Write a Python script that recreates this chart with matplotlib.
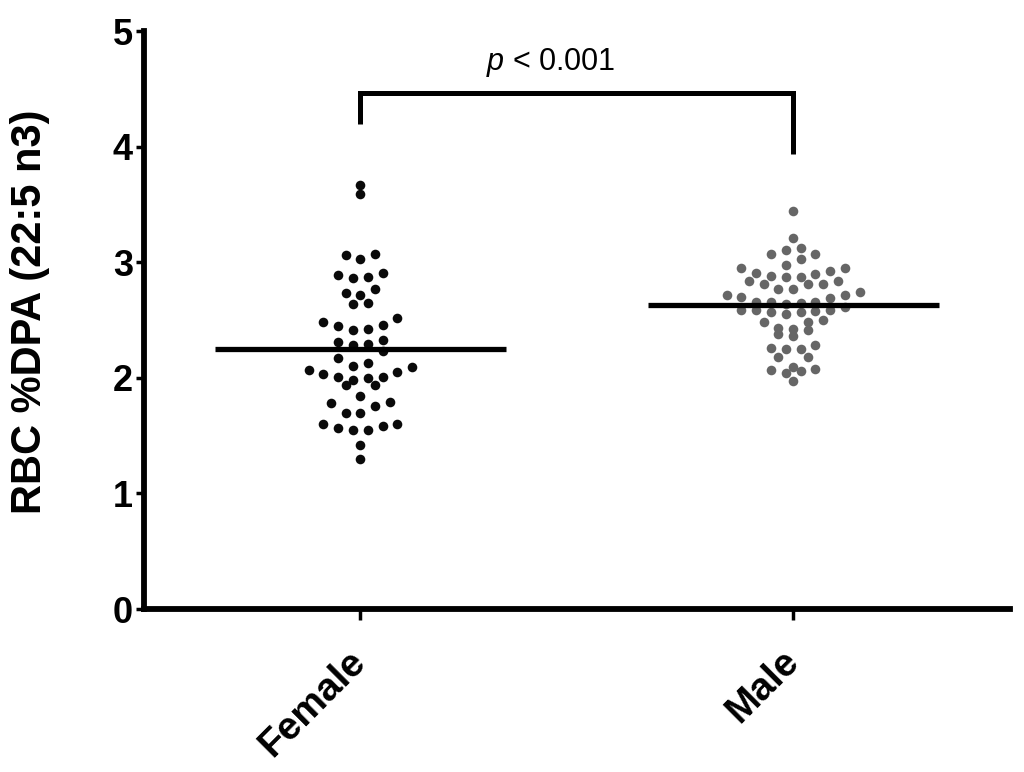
import numpy as np
import matplotlib
matplotlib.use('Agg')
import matplotlib.pyplot as plt

plt.rcParams['font.family'] = 'Liberation Sans'
plt.rcParams['mathtext.fontset'] = 'custom'
plt.rcParams['mathtext.it'] = 'Liberation Sans:italic'
plt.rcParams['mathtext.rm'] = 'Liberation Sans'

groups = ['Female', 'Male']

# values
female = [3.67, 3.59, 3.07, 3.03, 3.06, 2.91, 2.87, 2.86, 2.89, 2.77,
          2.72, 2.64, 2.65, 2.73, 2.52, 2.46, 2.42, 2.41, 2.45, 2.48,
          2.31, 2.28, 2.29, 2.33, 2.23, 2.17, 2.13, 2.10, 2.07, 2.03,
          2.01, 1.94, 1.98, 2.00, 1.94, 2.01, 2.05, 2.09, 1.84, 1.79,
          1.76, 1.70, 1.70, 1.78, 1.60, 1.58, 1.55, 1.55, 1.57, 1.60,
          1.42, 1.30]
male = [3.44, 3.21, 3.12, 3.07, 3.07, 3.11, 3.03, 2.95, 2.92, 2.90,
        2.91, 2.95, 2.98, 2.88, 2.87, 2.84, 2.81, 2.77, 2.77, 2.81,
        2.81, 2.84, 2.87, 2.72, 2.70, 2.66, 2.65, 2.64, 2.66, 2.66,
        2.69, 2.72, 2.74, 2.61, 2.59, 2.57, 2.55, 2.59, 2.58, 2.57,
        2.59, 2.48, 2.43, 2.41, 2.50, 2.36, 2.38, 2.42, 2.48, 2.28,
        2.25, 2.18, 2.18, 2.25, 2.26, 2.08, 2.06, 1.97, 2.04, 2.07,
        2.09]
means = [2.25, 2.63]
colors = ['#0a0a0a', '#666666']
row_h = [0.15, 0.11]

p_text = r'$p$ < 0.001'
bracket_top = 4.46
bracket_ends = [4.20, 3.94]


def row_offsets(values, bin_h, step):
    # dot-plot layout: points binned into rows, spread out from the centre
    v = np.asarray(values)
    rows = np.floor(v / bin_h).astype(int)
    x = np.zeros(len(v))
    for r in np.unique(rows):
        idx = np.where(rows == r)[0]
        idx = idx[np.argsort(v[idx])]
        n = len(idx)
        slots = (np.arange(n) - (n - 1) / 2) * step
        order = np.argsort(np.abs(slots), kind='stable')
        x[idx] = slots[order]
    return x


fig = plt.figure(figsize=(10.24, 7.72), dpi=100)
ax = fig.add_axes([0.1406, 0.2111, 0.8454, 0.7487])
ax.set_xlim(0.5, 2.5)
ax.set_ylim(0, 5)

px_per_x = ax.transData.transform((1, 0))[0] - ax.transData.transform((0, 0))[0]
step = 14.8 / px_per_x

pos = np.arange(1, len(groups) + 1)
for i, vals in enumerate([female, male]):
    xo = row_offsets(vals, row_h[i], step)
    ax.scatter(pos[i] + xo, vals, s=48, color=colors[i], linewidths=0, zorder=3)
    ax.hlines(means[i], pos[i] - 0.336, pos[i] + 0.336, color='black', lw=3.8, zorder=4)

# significance bracket
ax.plot([pos[0], pos[0], pos[1], pos[1]],
        [bracket_ends[0], bracket_top, bracket_top, bracket_ends[1]],
        color='black', lw=3.6, solid_joinstyle='miter', solid_capstyle='butt')
ax.text(1.44, 4.73, p_text, ha='center', va='center', fontsize=22)

for s in ['top', 'right']:
    ax.spines[s].set_visible(False)
for s in ['left', 'bottom']:
    ax.spines[s].set_linewidth(4.2)

ax.set_yticks([0, 1, 2, 3, 4, 5])
ax.set_yticklabels(['0', '1', '2', '3', '4', '5'], fontsize=26, fontweight='bold')
ax.tick_params(axis='y', length=6, width=2.5, pad=2)
ax.set_xticks(pos)
ax.set_xticklabels(groups, fontsize=28, fontweight='bold', rotation=45,
                   ha='right', va='center', rotation_mode='anchor')
ax.tick_params(axis='x', length=8, width=2.5, pad=26)

ax.set_ylabel('RBC %DPA (22:5 n3)', fontsize=30, fontweight='bold')
ax.yaxis.set_label_coords(-0.108, 0.514)

fig.savefig('out.png', dpi=100)
